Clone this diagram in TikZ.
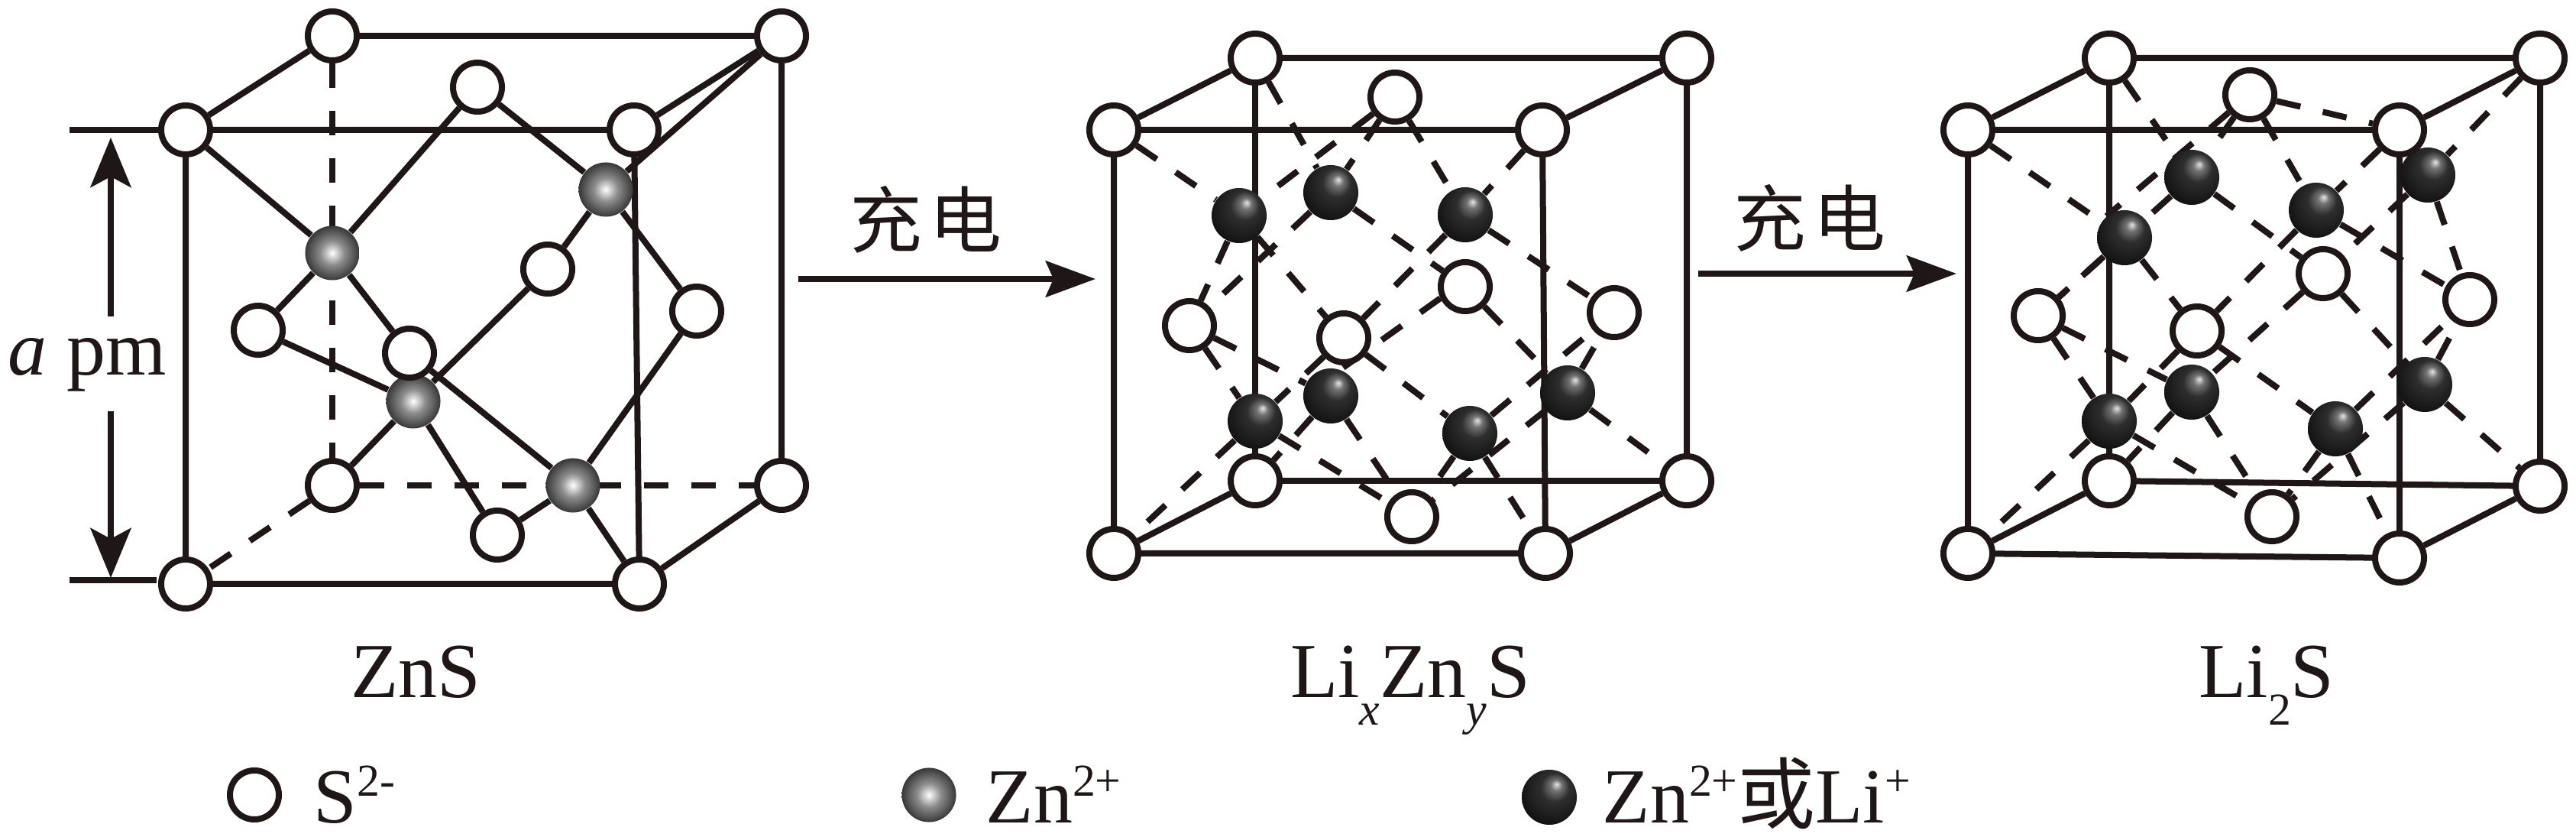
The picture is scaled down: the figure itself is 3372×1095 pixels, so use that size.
\documentclass[tikz,border=0pt]{standalone}
\usepackage{fontspec}
\setmainfont{Liberation Serif}
\newfontfamily\cjk{Noto Sans CJK SC}
\usetikzlibrary{arrows.meta}
\pgfdeclarelayer{bonds}
\pgfsetlayers{bonds,main}
\pgfdeclareradialshading{greyball}{\pgfpoint{0bp}{0bp}}{color(0bp)=(white); color(11bp)=(black!45); color(25bp)=(black!78); color(50bp)=(black!78)}
\pgfdeclareradialshading{darkball}{\pgfpoint{7bp}{12bp}}{color(0bp)=(black!10); color(5bp)=(black!55); color(13bp)=(black!82); color(35bp)=(black!96); color(50bp)=(black!96)}
\newcommand{\supr}[1]{\raisebox{.35cm}{\fontsize{17}{20}\selectfont #1}}
\newcommand{\subr}[1]{\raisebox{-.35cm}{\fontsize{17}{20}\selectfont #1}}
\definecolor{inkblack}{rgb}{0.12,0.09,0.09}
\tikzset{
	satom/.style={circle,draw=inkblack,fill=white,line width=0.08cm,minimum size=0.64cm,inner sep=0pt},
	znatom/.style={circle,shading=greyball,minimum size=0.71cm,inner sep=0pt},
	liatom/.style={circle,shading=darkball,minimum size=0.72cm,inner sep=0pt},
	bond/.style={draw=inkblack,line width=0.08cm},
	dbond/.style={bond,dash pattern=on 0.32cm off 0.3cm},
	label/.style={inner sep=0pt,anchor=base,text=inkblack,font=\fontsize{29}{35}\selectfont},
	hanzi/.style={inner sep=0pt,text=inkblack,font=\fontsize{27}{31}\selectfont\cjk},
	bigarrow/.style={draw=inkblack,fill=inkblack,line width=0.08cm,-{Stealth[length=0.65cm,width=0.47cm,inset=0.1cm]}},
	dimarrow/.style={bigarrow,-{Stealth[length=0.65cm,width=0.53cm,inset=0.14cm]}}
}
\begin{document}
\begin{tikzpicture}[x=0.01cm,y=-0.01cm]
		\useasboundingbox (0,0) rectangle (3372,1095);
		% ZnS
		\node(zna1) [znatom] at (435,331) {};
		\node(zna2) [znatom] at (793,248) {};
		\node(zna3) [znatom] at (541,525) {};
		\node(zna4) [znatom] at (750,635) {};
		\node(ftla) [satom] at (243,170) {};
		\node(ftra) [satom] at (830,170) {};
		\node(btla) [satom] at (435,47) {};
		\node(btra) [satom] at (1023,47) {};
		\node(fbla) [satom] at (243,764) {};
		\node(fbra) [satom] at (837,764) {};
		\node(bbla) [satom] at (435,635) {};
		\node(bbra) [satom] at (1023,635) {};
		\node(topa) [satom] at (625,114) {};
		\node(froa) [satom] at (536,462) {};
		\node(lefa) [satom] at (338,432) {};
		\node(riga) [satom] at (912,407) {};
		\node(baka) [satom] at (717,352) {};
		\node(bota) [satom] at (651,700) {};
		% Li_xZn_yS
		\node(lib1) [liatom] at (1622,282) {};
		\node(lib2) [liatom] at (1742,252) {};
		\node(lib3) [liatom] at (1918,281) {};
		\node(lib4) [liatom] at (1742,518) {};
		\node(lib5) [liatom] at (1643,551) {};
		\node(lib6) [liatom] at (1924,567) {};
		\node(lib7) [liatom] at (2052,514) {};
		\node(ftlb) [satom] at (1458,170) {};
		\node(ftrb) [satom] at (2019,170) {};
		\node(btlb) [satom] at (1643,76) {};
		\node(btrb) [satom] at (2208,76) {};
		\node(fblb) [satom] at (1458,724) {};
		\node(fbrb) [satom] at (2023,724) {};
		\node(bblb) [satom] at (1643,629) {};
		\node(bbrb) [satom] at (2208,629) {};
		\node(topb) [satom] at (1826,127) {};
		\node(frob) [satom] at (1759,442) {};
		\node(lefb) [satom] at (1557,426) {};
		\node(rigb) [satom] at (2113,409) {};
		\node(bakb) [satom] at (1918,375) {};
		\node(botb) [satom] at (1848,676) {};
		% Li_2S
		\node(lic1) [liatom] at (2781,311) {};
		\node(lic2) [liatom] at (2869,232) {};
		\node(lic3) [liatom] at (3032,275) {};
		\node(lic4) [liatom] at (2869,513) {};
		\node(lic5) [liatom] at (2761,551) {};
		\node(lic6) [liatom] at (3057,561) {};
		\node(lic7) [liatom] at (3174,503) {};
		\node(lic8) [liatom] at (3178,229) {};
		\node(ftlc) [satom] at (2576,170) {};
		\node(ftrc) [satom] at (3141,170) {};
		\node(btlc) [satom] at (2761,76) {};
		\node(btrc) [satom] at (3325,76) {};
		\node(fblc) [satom] at (2576,724) {};
		\node(fbrc) [satom] at (3141,730) {};
		\node(bblc) [satom] at (2761,629) {};
		\node(bbrc) [satom] at (3325,636) {};
		\node(topc) [satom] at (2945,124) {};
		\node(froc) [satom] at (2876,433) {};
		\node(lefc) [satom] at (2668,413) {};
		\node(rigc) [satom] at (3233,392) {};
		\node(bakc) [satom] at (3041,358) {};
		\node(botc) [satom] at (2974,676) {};

		\begin{pgfonlayer}{bonds}
		\draw[bond] (ftla) -- (ftra) -- (btra) -- (btla) -- (ftla) -- (fbla) -- (fbra) -- (bbra) -- (btra);
		\draw[bond] (ftra) -- (fbra);
		\draw[bond] (btra) -- (zna2);
		\draw[bond] (ftla) -- (zna1) -- (topa) -- (zna2) -- (baka) -- (zna3) -- (lefa) -- (zna1) -- (froa) -- (zna4) -- (riga) -- (zna2);
		\draw[bond] (bbla) -- (zna3) -- (bota) -- (zna4) -- (fbra);
		\draw[dbond] (btla) -- (bbla);
		\draw[dbond] (bbla) -- (bbra);
		\draw[dbond] (bbla) -- (fbla);

		\draw[bond] (ftlb) -- (ftrb) -- (btrb) -- (btlb) -- (ftlb) -- (fblb) -- (fbrb) -- (bbrb) -- (btrb);
		\draw[bond] (ftrb) -- (fbrb);
		\draw[bond] (btlb) -- (bblb) -- (bbrb);
		\draw[bond] (bblb) -- (fblb);
		\foreach \i/\j in {ftlb/lib1,btlb/lib2,topb/lib1,topb/lib2,topb/lib3,ftrb/lib3,lib2/bakb,lib3/rigb,lib1/lefb,lib1/frob,lib2/lefb,lib3/frob,frob/lib5,frob/lib6,lefb/lib4,lefb/lib5,lib4/bblb,lib4/botb,lib5/botb,lib5/fblb,lib6/rigb,lib6/botb,lib6/fbrb,lib7/rigb,lib7/botb,lib7/bbrb,bakb/lib7,bakb.205/lib4.70}
			\draw[dbond] (\i) -- (\j);

		\draw[bond] (ftlc) -- (ftrc) -- (btrc) -- (btlc) -- (ftlc) -- (fblc) -- (fbrc) -- (bbrc) -- (btrc);
		\draw[bond] (ftrc) -- (fbrc);
		\draw[bond] (btlc) -- (bblc) -- (bbrc);
		\draw[bond] (bblc) -- (fblc);
		\foreach \i/\j in {ftlc/lic1,btlc/lic2,topc.220/lic1.130,topc/lic2,topc/lic3,topc/ftrc,ftrc/lic3,btrc/lic8,lic8/rigc,lic8/bakc,lic3/rigc,lic2/bakc,lic3/froc,lic2/lefc,lic1/lefc,lic1/froc,bakc/lic4,bakc/lic7,froc/lic6,froc/lic5,lefc/lic4,lefc/lic5,lic4/bblc,lic4/botc,lic5/botc,lic5/fblc,lic6/botc,lic6/fbrc,lic6/rigc,lic7/rigc,lic7/botc,lic7/bbrc}
			\draw[dbond] (\i) -- (\j);
		\end{pgfonlayer}

		% size marks
		\coordinate(dimtopl) at (91,170);
		\coordinate(dimbotl) at (91,759);
		\coordinate(dimbotr) at (205,759);
		\coordinate(dimtip1) at (145,180);
		\coordinate(dimend1) at (145,414);
		\coordinate(dimend2) at (145,538);
		\coordinate(dimtip2) at (145,756);
		\draw[bond] (dimtopl) -- (ftla);
		\draw[bond] (dimbotl) -- (dimbotr);
		\draw[dimarrow] (dimend1) -- (dimtip1);
		\draw[dimarrow] (dimend2) -- (dimtip2);
		\node(sizea) [label,anchor=base west] at (10,491) {\textit{a} pm};

		% charging arrows
		\coordinate(chg1s) at (1045,365);
		\coordinate(chg1e) at (1434,365);
		\coordinate(chg2s) at (2223,358);
		\coordinate(chg2e) at (2561,358);
		\draw[bigarrow] (chg1s) -- (chg1e);
		\draw[bigarrow] (chg2s) -- (chg2e);
		\node(chgtext1) [hanzi] at (1212,287) {充\hspace{0.1cm}电};
		\node(chgtext2) [hanzi] at (2369,285) {充\hspace{0.1cm}电};

		% names
		\node(namea) [label] at (544,913) {ZnS};
		\node(nameb) [label] at (1846,913) {Li\subr{\textit{x}}Zn\subr{\textit{y}}S};
		\node(namec) [label] at (2967,913) {Li\subr{2}S};

		% key
		\node(keys) [satom] at (333,1040) {};
		\node(keyzn) [znatom] at (1216,1040) {};
		\node(keyli) [liatom] at (2028,1043) {};
		\node(keystext) [label,anchor=base west] at (410,1077) {S\supr{2-}};
		\node(keyzntext) [label,anchor=base west] at (1290,1077) {Zn\supr{2+}};
		\node(keylitext) [label,anchor=base west] at (2097,1077) {Zn\supr{2+}{\cjk 或}Li\supr{+}};
\end{tikzpicture}
\end{document}
